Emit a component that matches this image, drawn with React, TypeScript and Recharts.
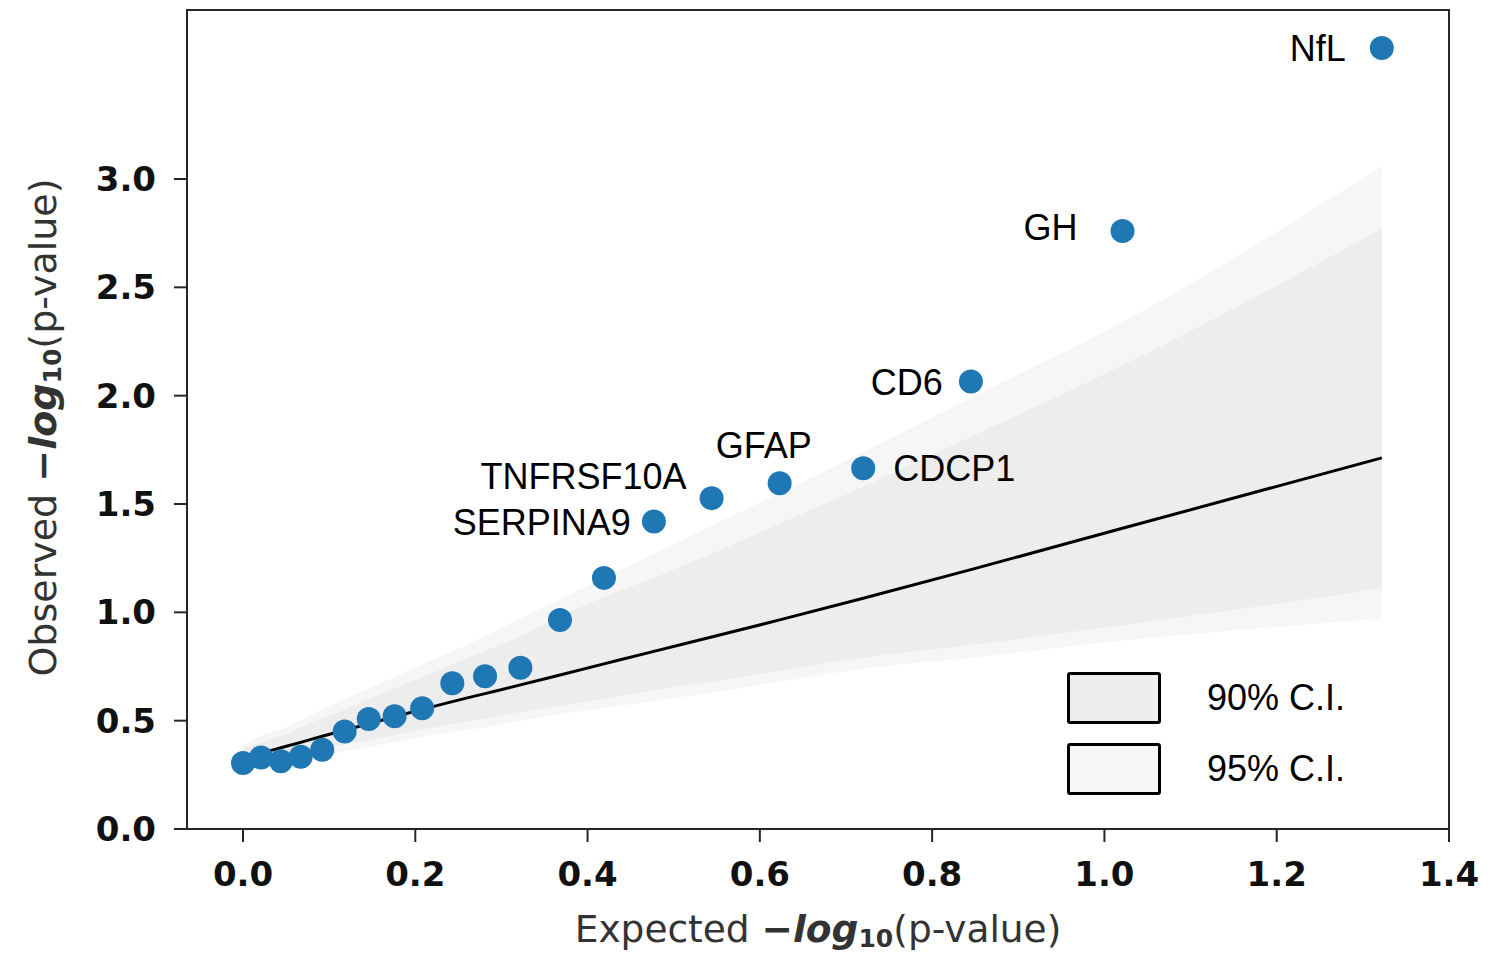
import React from "react";
import {
  ComposedChart,
  Area,
  Line,
  Scatter,
  XAxis,
  YAxis,
  ReferenceArea,
  LabelList,
} from "recharts";

// Expected −log10(p) for each ranked protein
const expected = [
  0, 0.021, 0.044, 0.067, 0.092, 0.118, 0.146, 0.176, 0.208, 0.243, 0.281,
  0.322, 0.368, 0.419, 0.477, 0.544, 0.623, 0.72, 0.845, 1.021, 1.322,
];
// Observed −log10(p)
const observed = [
  0.305, 0.33, 0.313, 0.333, 0.366, 0.45, 0.508, 0.52, 0.557, 0.673, 0.705,
  0.744, 0.965, 1.159, 1.419, 1.527, 1.596, 1.665, 2.065, 2.76, 3.605,
];
const proteins = [
  "", "", "", "", "", "", "", "", "", "", "", "", "", "",
  "SERPINA9", "TNFRSF10A", "GFAP", "CDCP1", "CD6", "GH", "NfL",
];

// Null expectation and confidence bands
const nullMedian = [
  0.327, 0.35, 0.375, 0.4, 0.428, 0.456, 0.486, 0.518, 0.552, 0.588, 0.625,
  0.665, 0.711, 0.762, 0.82, 0.886, 0.965, 1.065, 1.197, 1.388, 1.713,
];
const ci90Low = [
  0.29, 0.305, 0.325, 0.345, 0.365, 0.39, 0.41, 0.435, 0.46, 0.485, 0.51,
  0.54, 0.57, 0.6, 0.64, 0.68, 0.73, 0.79, 0.85, 0.94, 1.11,
];
const ci90High = [
  0.37, 0.4, 0.43, 0.47, 0.51, 0.55, 0.6, 0.65, 0.7, 0.76, 0.82,
  0.89, 0.98, 1.07, 1.16, 1.27, 1.41, 1.58, 1.81, 2.14, 2.77,
];
const ci95Low = [
  0.27, 0.285, 0.3, 0.32, 0.34, 0.36, 0.38, 0.4, 0.425, 0.45, 0.47,
  0.5, 0.53, 0.56, 0.59, 0.63, 0.68, 0.74, 0.79, 0.87, 0.97,
];
const ci95High = [
  0.39, 0.43, 0.46, 0.5, 0.55, 0.6, 0.65, 0.7, 0.76, 0.82, 0.89,
  0.97, 1.06, 1.16, 1.27, 1.4, 1.55, 1.74, 1.99, 2.34, 3.06,
];

const xTicks = [0, 0.2, 0.4, 0.6, 0.8, 1.0, 1.2, 1.4];
const yTicks = [0, 0.5, 1.0, 1.5, 2.0, 2.5, 3.0];

const curve = expected.map((x, i) => ({
  x,
  median: nullMedian[i],
  ci90: [ci90Low[i], ci90High[i]],
  ci95: [ci95Low[i], ci95High[i]],
}));

const points = expected.map((x, i) => ({
  x,
  y: observed[i],
  name: proteins[i],
}));

// label placement around each annotated point
const labelPlacement: Record<string, { dx: number; dy: number; anchor: string }> = {
  NfL: { dx: -36, dy: 0, anchor: "end" },
  GH: { dx: -45, dy: -4, anchor: "end" },
  CD6: { dx: -28, dy: 0, anchor: "end" },
  CDCP1: { dx: 30, dy: 0, anchor: "start" },
  GFAP: { dx: -16, dy: -38, anchor: "middle" },
  TNFRSF10A: { dx: -25, dy: -22, anchor: "end" },
  SERPINA9: { dx: -23, dy: 0, anchor: "end" },
};

const W = 1501;
const H = 949;
const AXIS = "#262626";
const TICK_FONT = {
  fontFamily: "DejaVu Sans",
  fontWeight: "bold" as const,
  fontSize: 34,
  fill: "#111",
};
const LABEL_FONT = "Liberation Sans, Arial, sans-serif";

const Dot = (props: any) => (
  <circle cx={props.cx} cy={props.cy} r={12} fill="#1f77b4" />
);

const PointLabel = (props: any) => {
  const { x, y, width, height, value } = props;
  const p = labelPlacement[value];
  if (!p) return null;
  const cx = x + (width || 0) / 2;
  const cy = y + (height || 0) / 2;
  return (
    <text
      x={cx + p.dx}
      y={cy + p.dy}
      dy="0.36em"
      textAnchor={p.anchor as any}
      fontFamily={LABEL_FONT}
      fontSize={36}
      fill="#000"
    >
      {value}
    </text>
  );
};

const AxisTitle = ({ word }: { word: string }) => (
  <>
    <tspan>{word} </tspan>
    <tspan fontWeight="bold">−</tspan>
    <tspan fontWeight="bold" fontStyle="italic">log</tspan>
    <tspan fontWeight="bold" fontSize={25} dy={5}>10</tspan>
    <tspan dy={-5}>(p-value)</tspan>
  </>
);

const XLabel = (props: any) => {
  const vb = props.viewBox;
  const cx = vb.x + vb.width / 2;
  const by = vb.y + 113;
  return (
    <text x={cx} y={by} textAnchor="middle" fontFamily="DejaVu Sans" fontSize={37.5} fill="#333">
      <AxisTitle word="Expected" />
    </text>
  );
};

const YLabel = (props: any) => {
  const vb = props.viewBox;
  const bx = 48;
  const cy = vb.y + vb.height / 2 + 8;
  return (
    <text
      x={bx}
      y={cy}
      transform={`rotate(-90 ${bx} ${cy})`}
      textAnchor="middle"
      fontFamily="DejaVu Sans"
      fontSize={38}
      fill="#333"
    >
      <AxisTitle word="Observed" />
    </text>
  );
};

const legendItems = [
  { label: "90% C.I.", fill: "#eeeeee", top: 672 },
  { label: "95% C.I.", fill: "#f7f7f7", top: 743 },
];

export default function App() {
  return (
    <div style={{ position: "relative", width: W, height: H }}>
      <ComposedChart
        width={W}
        height={H}
        data={curve}
        margin={{ top: 2, right: 60, bottom: 8, left: 0 }}
      >
        <XAxis
          type="number"
          dataKey="x"
          domain={[-0.065, 1.4]}
          ticks={xTicks}
          tickFormatter={(v: number) => v.toFixed(1)}
          allowDataOverflow
          height={120}
          stroke={AXIS}
          strokeWidth={2}
          tickSize={13}
          tickMargin={20}
          tick={TICK_FONT}
          label={<XLabel />}
        />
        <YAxis
          type="number"
          domain={[0, 3.78]}
          ticks={yTicks}
          tickFormatter={(v: number) => v.toFixed(1)}
          allowDataOverflow
          width={179}
          stroke={AXIS}
          strokeWidth={2}
          tickSize={13}
          tickMargin={18}
          tick={TICK_FONT}
          label={<YLabel />}
        />
        <Area
          dataKey="ci95"
          type="monotone"
          fill="#f6f6f6"
          fillOpacity={1}
          stroke="none"
          isAnimationActive={false}
        />
        <Area
          dataKey="ci90"
          type="monotone"
          fill="#ededed"
          fillOpacity={1}
          stroke="none"
          isAnimationActive={false}
        />
        <Line
          dataKey="median"
          type="monotone"
          stroke="#000"
          strokeWidth={3}
          dot={false}
          isAnimationActive={false}
        />
        <Scatter data={points} dataKey="y" shape={<Dot />} isAnimationActive={false}>
          <LabelList dataKey="name" content={<PointLabel />} />
        </Scatter>
        <ReferenceArea
          x1={-0.065}
          x2={1.4}
          y1={0}
          y2={3.78}
          fill="none"
          stroke={AXIS}
          strokeWidth={2}
          ifOverflow="visible"
        />
      </ComposedChart>
      {legendItems.map((it) => (
        <div key={it.label}>
          <div
            style={{
              position: "absolute",
              left: 1059,
              top: it.top - 8,
              width: 88,
              height: 46,
              background: it.fill,
              border: "3px solid #000",
              borderRadius: 3,
            }}
          />
          <div
            style={{
              position: "absolute",
              left: 1199,
              top: it.top - 8 + 1,
              height: 50,
              lineHeight: "50px",
              fontFamily: LABEL_FONT,
              fontSize: 36,
              color: "#000",
            }}
          >
            {it.label}
          </div>
        </div>
      ))}
    </div>
  );
}
